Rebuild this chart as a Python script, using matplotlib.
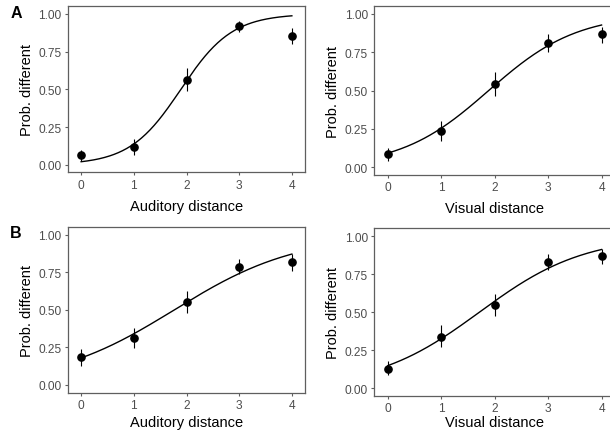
import numpy as np
import matplotlib
matplotlib.use("Agg")
import matplotlib.pyplot as plt

plt.rcParams['font.family'] = ['Liberation Sans', 'DejaVu Sans']

distance = [0, 1, 2, 3, 4]

# Panel A, auditory
aud_a_mean = [0.062, 0.117, 0.562, 0.918, 0.854]
aud_a_lo = [0.024, 0.064, 0.489, 0.880, 0.798]
aud_a_hi = [0.097, 0.168, 0.644, 0.955, 0.906]
aud_a_fit = (-3.89, 2.055)  # logistic intercept, slope

# Panel A, visual
vis_a_mean = [0.085, 0.235, 0.543, 0.811, 0.870]
vis_a_lo = [0.043, 0.170, 0.467, 0.750, 0.811]
vis_a_hi = [0.126, 0.300, 0.620, 0.870, 0.913]
vis_a_fit = (-2.276, 1.208)

# Panel B, auditory
aud_b_mean = [0.188, 0.313, 0.550, 0.787, 0.816]
aud_b_lo = [0.128, 0.244, 0.477, 0.738, 0.756]
aud_b_hi = [0.240, 0.379, 0.623, 0.838, 0.871]
aud_b_fit = (-1.516, 0.857)

# Panel B, visual
vis_b_mean = [0.127, 0.339, 0.549, 0.827, 0.871]
vis_b_lo = [0.083, 0.273, 0.477, 0.777, 0.816]
vis_b_hi = [0.175, 0.416, 0.619, 0.882, 0.915]
vis_b_fit = (-1.75, 1.02)

y_ticks = [0.00, 0.25, 0.50, 0.75, 1.00]
y_ticklabels = ["0.00", "0.25", "0.50", "0.75", "1.00"]
y_title = "Prob. different"
panel_labels = ["A", "B"]

W, H = 610, 431
fig = plt.figure(figsize=(W / 100, H / 100), dpi=100)

def px_axes(left, top, width, height):
    return fig.add_axes([left / W, 1 - (top + height) / H, width / W, height / H])

border_col = '#5f5f5f'

def draw(ax, mean, lo, hi, fit, xtitle, xlab_y):
    a, b = fit
    xs = np.linspace(0, 4, 200)
    ax.plot(xs, 1 / (1 + np.exp(-(a + b * xs))), color='black', lw=1.0, zorder=2)
    m = np.array(mean)
    ax.errorbar(distance, mean, yerr=[m - np.array(lo), np.array(hi) - m],
                fmt='o', color='black', ms=5.2, elinewidth=0.8, capsize=0, zorder=3)
    ax.set_xlim(-0.255, 4.255)
    ax.set_ylim(-0.05, 1.05)
    ax.set_xticks(distance)
    ax.set_xticklabels([str(d) for d in distance])
    ax.set_yticks(y_ticks)
    ax.set_yticklabels(y_ticklabels)
    for s in ax.spines.values():
        s.set_color(border_col)
        s.set_linewidth(0.9)
    ax.tick_params(axis='both', colors=border_col, labelcolor='#4d4d4d',
                   labelsize=8.6, length=2.5, width=0.8, pad=2.0)
    ax.set_ylabel(y_title, fontsize=10.5, color='black', va='center')
    ax.yaxis.set_label_coords(-0.171, 0.5)
    ax.set_xlabel(xtitle, fontsize=10.5, color='black', va='baseline')
    ax.xaxis.set_label_coords(0.5, xlab_y)

ax1 = px_axes(67.7, 7.3, 237.6, 166.0)
draw(ax1, aud_a_mean, aud_a_lo, aud_a_hi, aud_a_fit, "Auditory distance", -0.226)
ax2 = px_axes(374.3, 7.3, 240.9, 168.7)
draw(ax2, vis_a_mean, vis_a_lo, vis_a_hi, vis_a_fit, "Visual distance", -0.217)
ax3 = px_axes(67.7, 228.2, 237.6, 165.3)
draw(ax3, aud_b_mean, aud_b_lo, aud_b_hi, aud_b_fit, "Auditory distance", -0.20)
ax4 = px_axes(374.3, 229.4, 240.9, 167.3)
draw(ax4, vis_b_mean, vis_b_lo, vis_b_hi, vis_b_fit, "Visual distance", -0.18)

fig.text(16 / W, 1 - 13 / H, panel_labels[0], fontsize=11.5, fontweight='bold',
         ha='center', va='center')
fig.text(16 / W, 1 - 233 / H, panel_labels[1], fontsize=11.5, fontweight='bold',
         ha='center', va='center')

fig.savefig("out.png", dpi=100)
